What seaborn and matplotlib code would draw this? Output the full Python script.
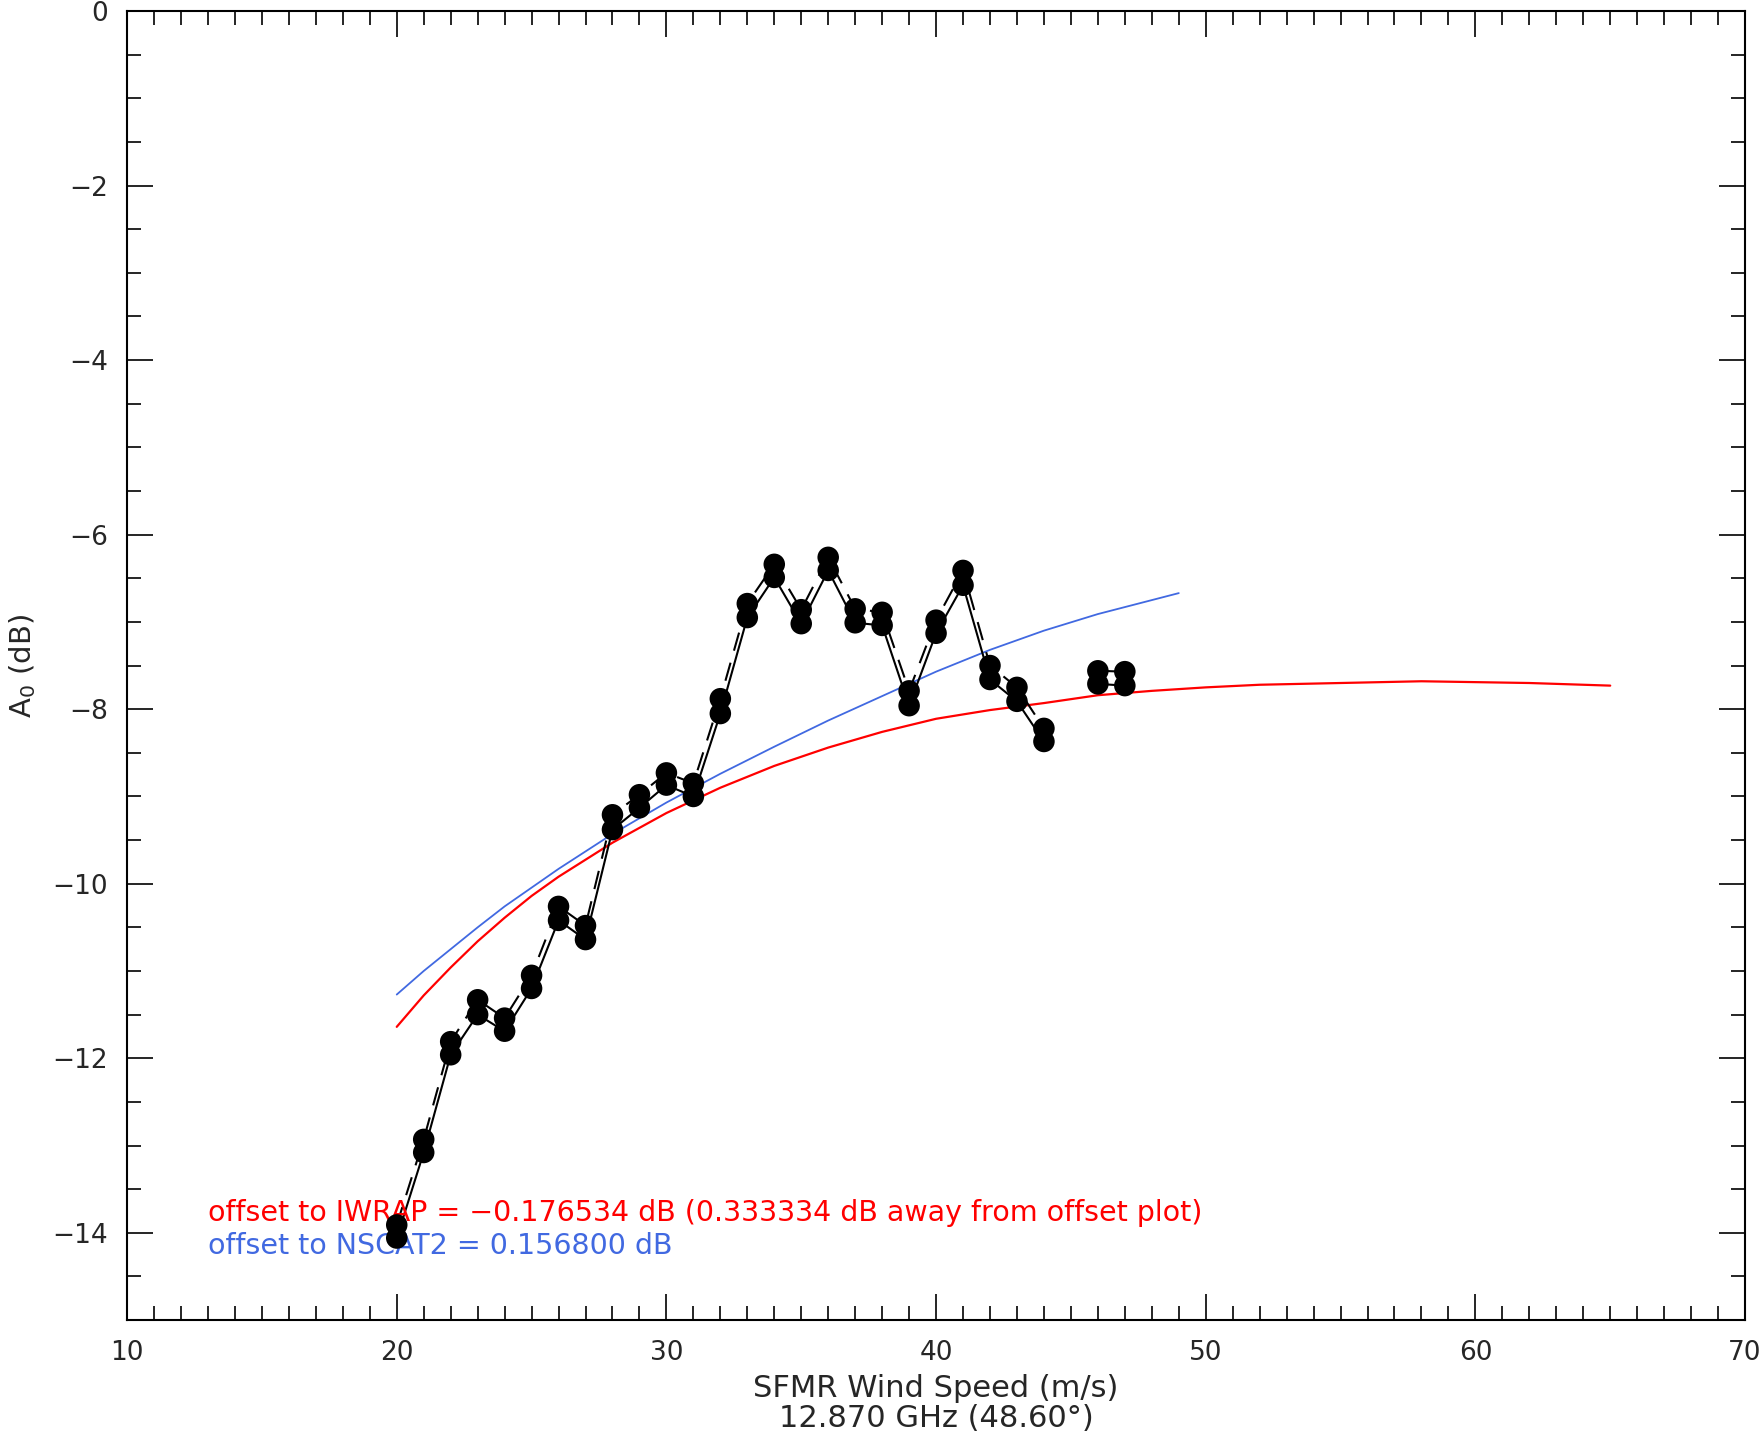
import numpy as np
import pandas as pd
import matplotlib
matplotlib.use("Agg")
import matplotlib.pyplot as plt
import seaborn as sns
from matplotlib.ticker import MultipleLocator

# ---- data ----
wind = [20, 21, 22, 23, 24, 25, 26, 27, 28, 29, 30, 31, 32, 33, 34, 35, 36, 37, 38, 39, 40, 41, 42, 43, 44, 46, 47]
segment = [0] * 25 + [1] * 2
a0_offset = [-13.91, -12.93, -11.81, -11.33, -11.54, -11.05, -10.26, -10.48, -9.21, -8.98, -8.73, -8.85,
             -7.88, -6.79, -6.34, -6.86, -6.26, -6.85, -6.89, -7.79, -6.98, -6.41, -7.50, -7.75, -8.22,
             -7.56, -7.57]
a0_plain = [-14.06, -13.08, -11.96, -11.50, -11.69, -11.20, -10.42, -10.64, -9.38, -9.13, -8.87, -9.00,
            -8.05, -6.95, -6.49, -7.02, -6.41, -7.01, -7.04, -7.96, -7.13, -6.58, -7.66, -7.91, -8.37,
            -7.71, -7.73]

nscat_x = [20, 21, 22, 23, 24, 26, 28, 30, 32, 34, 36, 38, 40, 42, 44, 46, 48, 49]
nscat_y = [-11.27, -11.00, -10.75, -10.50, -10.26, -9.83, -9.43, -9.07, -8.74, -8.43, -8.13, -7.85,
           -7.57, -7.32, -7.10, -6.91, -6.75, -6.67]

iwrap_x = [20, 21, 22, 23, 24, 25, 26, 28, 30, 32, 34, 36, 38, 40, 42, 44, 46, 48, 50, 52, 55, 58, 60, 62, 65]
iwrap_y = [-11.64, -11.28, -10.96, -10.66, -10.39, -10.14, -9.92, -9.53, -9.19, -8.90, -8.65, -8.44, -8.26,
           -8.11, -8.01, -7.93, -7.84, -7.79, -7.75, -7.72, -7.70, -7.68, -7.69, -7.70, -7.73]

xlabel_text = "SFMR Wind Speed (m/s)\n12.870 GHz (48.60°)"
ylabel_text = "A$_0$ (dB)"
iwrap_text = "offset to IWRAP = \u22120.176534 dB (0.333334 dB away from offset plot)"
nscat_text = "offset to NSCAT2 = 0.156800 dB"

# ---- build frames ----
df = pd.DataFrame({"wind": wind, "seg": segment, "upper": a0_offset, "lower": a0_plain})
nscat = pd.DataFrame({"x": nscat_x, "y": nscat_y})
iwrap = pd.DataFrame({"x": iwrap_x, "y": iwrap_y})

sns.set_theme(style="white")
plt.rcParams["font.family"] = ["DejaVu Sans"]
plt.rcParams["axes.unicode_minus"] = True

fig = plt.figure(figsize=(17.65, 14.35), dpi=100)
ax = fig.add_axes([0.072, 0.0801, 0.9167, 0.9122])

sns.lineplot(data=iwrap, x="x", y="y", ax=ax, color="#ff0000", linewidth=1.6, estimator=None, sort=False)
sns.lineplot(data=nscat, x="x", y="y", ax=ax, color="#4169e1", linewidth=1.3, estimator=None, sort=False)

sns.lineplot(data=df, x="wind", y="upper", units="seg", estimator=None, ax=ax, color="black",
             linewidth=1.5, linestyle=(0, (9, 6)), sort=False)
sns.lineplot(data=df, x="wind", y="lower", units="seg", estimator=None, ax=ax, color="black",
             linewidth=1.5, sort=False)
sns.scatterplot(data=df, x="wind", y="upper", ax=ax, color="black", s=240, edgecolor="none", zorder=5)
sns.scatterplot(data=df, x="wind", y="lower", ax=ax, color="black", s=240, edgecolor="none", zorder=5)

ax.set_xlim(10, 70)
ax.set_ylim(-15, 0)
ax.xaxis.set_major_locator(MultipleLocator(10))
ax.xaxis.set_minor_locator(MultipleLocator(1))
ax.yaxis.set_major_locator(MultipleLocator(2))
ax.yaxis.set_minor_locator(MultipleLocator(0.5))
ax.tick_params(which="both", direction="in", top=True, right=True, bottom=True, left=True,
               color="black", width=1.2)
ax.tick_params(which="major", length=19, labelsize=19, pad=14)
ax.tick_params(which="minor", length=10)
for s in ax.spines.values():
    s.set_color("black")
    s.set_linewidth(1.5)

ax.set_xlabel(xlabel_text, fontsize=22, labelpad=6, linespacing=1.05)
ax.set_ylabel(ylabel_text, fontsize=21, labelpad=10)

ax.text(13.0, -13.77, iwrap_text, color="#ff0000", fontsize=20.5, va="center", ha="left")
ax.text(13.0, -14.15, nscat_text, color="#4169e1", fontsize=20.5, va="center", ha="left")

fig.savefig("out.png", dpi=100, facecolor="white")
